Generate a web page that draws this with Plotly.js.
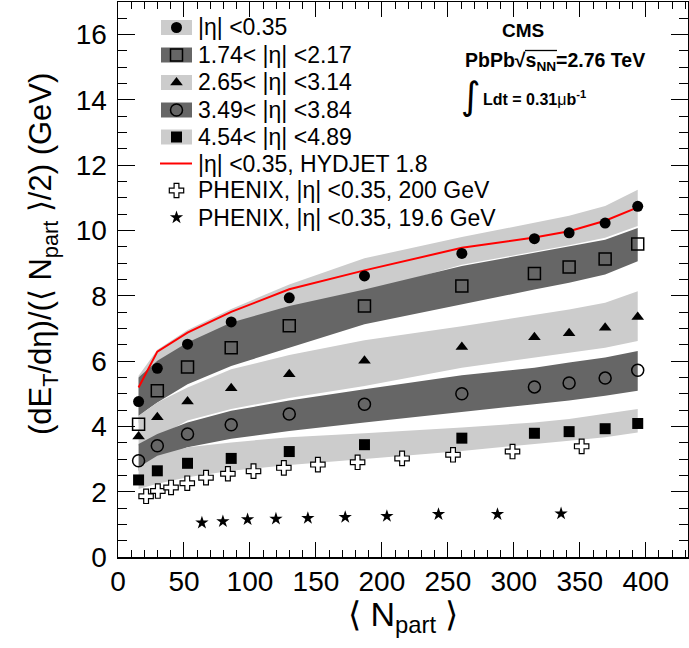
<!DOCTYPE html>
<html><head><meta charset="utf-8">
<script src="https://cdn.plot.ly/plotly-3.0.1.min.js"></script>
<style>body{margin:0;background:#fff}</style>
</head><body><div id="chart" style="width:689px;height:648px"></div>
<script>
// ---- data ----
const npart = [15.6, 29.8, 52.7, 85.8, 129.8, 186.8, 260.6, 315.6, 341.9, 369.2, 393.9];
const eta035 = [4.76, 5.78, 6.52, 7.20, 7.94, 8.61, 9.30, 9.75, 9.93, 10.23, 10.74];
const eta035Up = [5.55, 6.35, 6.95, 7.60, 8.35, 9.15, 9.80, 10.25, 10.45, 10.75, 11.25];
const eta035Lo = [4.10, 5.20, 6.00, 6.80, 7.50, 8.10, 8.95, 9.35, 9.55, 9.78, 10.14];
const eta174 = [4.07, 5.09, 5.82, 6.41, 7.08, 7.69, 8.30, 8.68, 8.88, 9.13, 9.59];
const eta174Up = [5.50, 6.01, 6.57, 7.18, 7.69, 8.19, 8.91, 9.31, 9.52, 9.72, 10.08];
const eta174Lo = [4.33, 4.73, 5.29, 5.85, 6.41, 7.13, 7.74, 8.19, 8.40, 8.65, 9.06];
const eta265 = [3.69, 4.28, 4.76, 5.17, 5.60, 6.01, 6.43, 6.73, 6.85, 7.02, 7.35];
const eta265Up = [4.33, 4.73, 5.19, 5.75, 6.19, 6.64, 7.07, 7.43, 7.58, 7.79, 8.14];
const eta265Lo = [3.41, 3.67, 4.18, 4.53, 4.87, 5.24, 5.80, 6.11, 6.26, 6.41, 6.62];
const eta349 = [2.95, 3.41, 3.77, 4.05, 4.38, 4.68, 5.00, 5.21, 5.33, 5.48, 5.72];
const eta349Up = [3.46, 3.77, 4.12, 4.48, 4.79, 5.14, 5.57, 5.80, 5.96, 6.11, 6.31];
const eta349Lo = [2.64, 3.00, 3.36, 3.62, 3.86, 4.12, 4.45, 4.68, 4.79, 4.94, 5.09];
const eta454 = [2.36, 2.64, 2.87, 3.02, 3.23, 3.44, 3.64, 3.79, 3.84, 3.93, 4.09];
const eta454Up = [2.75, 3.10, 3.36, 3.51, 3.67, 3.79, 3.97, 4.12, 4.23, 4.38, 4.53];
const eta454Lo = [2.08, 2.24, 2.44, 2.64, 2.82, 3.00, 3.25, 3.46, 3.56, 3.67, 3.81];
const hydjet = [5.19, 6.29, 6.87, 7.51, 8.20, 8.78, 9.47, 9.79, 9.98, 10.30, 10.71];
const phx200N = [21.3, 30.2, 40.2, 52.5, 66.7, 83.3, 102.7, 125.7, 151.5, 181.6, 215.3, 253.9, 299.0, 351.4];
const phx200 = [1.86, 2.02, 2.13, 2.26, 2.43, 2.55, 2.63, 2.73, 2.83, 2.90, 3.02, 3.13, 3.23, 3.39];
const phx19N = [63.6, 79.5, 98.2, 119.7, 143.9, 172.2, 203.8, 242.9, 287.6, 335.8];
const phx19 = [1.05, 1.09, 1.15, 1.17, 1.19, 1.22, 1.25, 1.31, 1.31, 1.33];
const legendLabels = ["|η| <0.35", "1.74< |η| <2.17", "2.65< |η| <3.14", "3.49< |η| <3.84",
  "4.54< |η| <4.89", "|η| <0.35, HYDJET 1.8", "PHENIX, |η| <0.35, 200 GeV", "PHENIX, |η| <0.35, 19.6 GeV"];

const LIGHT = '#cccccc', DARK = '#666666';
const FONT = 'Liberation Sans, Arial, Helvetica, sans-serif';
const XMAX = 432, YMAX = 17;

// pixel helpers for layout (plot area 118..688 x, 2..557 y)
const L = 118, R = 688, T = 2, B = 557;
const px = x => (x - L) / (R - L);
const py = y => (B - y) / (B - T);
const dx = x => px(x) * XMAX;   // pixel -> data (legend glyphs only)
const dy = y => py(y) * YMAX;

function band(up, lo, color) {
  return {x: npart.concat(npart.slice().reverse()), y: up.concat(lo.slice().reverse()),
    type: 'scatter', mode: 'lines', fill: 'toself', fillcolor: color, line: {width: 0},
    hoverinfo: 'skip', showlegend: false};
}
function pts(x, y, symbol, color, size, lw) {
  return {x: x, y: y, type: 'scatter', mode: 'markers', showlegend: false, cliponaxis: false,
    marker: {symbol: symbol, color: color, size: size, line: {color: 'black', width: lw}}};
}

const traces = [
  band(eta035Up, eta035Lo, LIGHT),
  band(eta174Up, eta174Lo, DARK),
  band(eta265Up, eta265Lo, LIGHT),
  band(eta349Up, eta349Lo, DARK),
  band(eta454Up, eta454Lo, LIGHT),
  {x: npart, y: hydjet, type: 'scatter', mode: 'lines', line: {color: '#ff0000', width: 2}, showlegend: false},
  pts(npart, eta035, 'circle', 'black', 11, 0),
  pts(npart, eta174, 'square-open', 'black', 12, 1.5),
  pts(npart, eta265, 'triangle-up', 'black', 11, 0),
  pts(npart, eta349, 'circle-open', 'black', 12, 1.5),
  pts(npart, eta454, 'square', 'black', 11, 0),
  pts(phx200N, phx200, 'cross', 'white', 12, 1.2),
  pts(phx19N, phx19, 'star', 'black', 10, 0)
];

// legend rows (pixel centres)
const rowY = [27.5, 55, 82.5, 110, 137, 163.5, 190.5, 217.5];
const boxColors = [LIGHT, DARK, LIGHT, DARK, LIGHT];
const shapes = [];
boxColors.forEach((c, i) => {
  shapes.push({type: 'rect', xref: 'paper', yref: 'paper', x0: px(161), x1: px(192),
    y0: py(rowY[i] - 7.5), y1: py(rowY[i] + 7.5), fillcolor: c, line: {width: 0}, layer: 'below'});
});
shapes.push({type: 'line', xref: 'paper', yref: 'paper', x0: px(160), x1: px(192),
  y0: py(rowY[5]), y1: py(rowY[5]), line: {color: '#ff0000', width: 2}});
// overline of the square root over s_NN
shapes.push({type: 'line', xref: 'paper', yref: 'paper', x0: px(525), x1: px(557),
  y0: py(50.5), y1: py(50.5), line: {color: 'black', width: 1.3}});

const legSym = ['circle', 'square-open', 'triangle-up', 'circle-open', 'square', 'cross', 'star'];
const legCol = ['black', 'black', 'black', 'black', 'black', 'white', 'black'];
const legSize = [11, 12, 11, 12, 11, 12, 10];
const legLw = [0, 1.5, 0, 1.5, 0, 1.2, 0];
const legRows = [0, 1, 2, 3, 4, 6, 7];
legRows.forEach((r, i) => {
  traces.push({x: [dx(176.5)], y: [dy(rowY[r])], type: 'scatter', mode: 'markers',
    showlegend: false, hoverinfo: 'skip', cliponaxis: false,
    marker: {symbol: legSym[i], color: legCol[i], size: legSize[i], line: {color: 'black', width: legLw[i]}}});
});

const annotations = legendLabels.map((t, i) => ({
  xref: 'paper', yref: 'paper', x: px(196), y: py(rowY[i]), xanchor: 'left', yanchor: 'middle',
  text: t, showarrow: false, font: {family: FONT, size: 23, color: 'black'}
}));
annotations.push(
  {xref: 'paper', yref: 'paper', x: px(523), y: py(30), xanchor: 'center', yanchor: 'middle', text: '<b>CMS</b>', showarrow: false,
   font: {family: FONT, size: 19, color: 'black'}},
  {xref: 'paper', yref: 'paper', x: px(463), y: py(61), xanchor: 'left', yanchor: 'middle', text: '<b>PbPb√s<sub>NN</sub>=2.76 TeV</b>', showarrow: false,
   font: {family: FONT, size: 19.5, color: 'black'}},
  {xref: 'paper', yref: 'paper', x: px(471), y: py(96), xanchor: 'center', yanchor: 'middle', text: '∫', showarrow: false,
   font: {family: 'DejaVu Sans, sans-serif', size: 38, color: 'black'}},
  {xref: 'paper', yref: 'paper', x: px(481), y: py(98), xanchor: 'left', yanchor: 'middle', text: '<b>Ldt = 0.31</b>μ<b>b<sup>-1</sup></b>', showarrow: false,
   font: {family: FONT, size: 16, color: 'black'}},
  {xref: 'paper', yref: 'paper', x: px(43), y: py(254), xanchor: 'center', yanchor: 'middle', textangle: -90,
   text: '(dE<sub>T</sub>/dη)/(⟨ N<sub>part</sub> ⟩/2) (GeV)', showarrow: false,
   font: {family: FONT, size: 31, color: 'black'}},
  {xref: 'paper', yref: 'paper', x: px(403), y: py(616), xanchor: 'center', yanchor: 'middle',
   text: '⟨ N<sub>part</sub> ⟩', showarrow: false,
   font: {family: FONT, size: 34, color: 'black'}}
);

const axCommon = {showline: true, linecolor: 'black', linewidth: 1.5, mirror: 'allticks', ticks: 'inside',
  tickcolor: 'black', tickwidth: 1, showgrid: false, zeroline: false,
  tickfont: {family: FONT, size: 28, color: 'black'}};

const layout = {
  width: 689, height: 648, margin: {l: L, r: 689 - R, t: T, b: 648 - B},
  paper_bgcolor: 'white', plot_bgcolor: 'white', showlegend: false,
  xaxis: Object.assign({}, axCommon, {range: [0, XMAX], tick0: 0, dtick: 50, ticklen: 15, ticklabelstandoff: -1,
    minor: {dtick: 10, ticklen: 7, ticks: 'inside', tickcolor: 'black', tickwidth: 1}}),
  yaxis: Object.assign({}, axCommon, {range: [0, YMAX], tick0: 0, dtick: 2, ticklen: 17, ticklabelstandoff: 4,
    minor: {dtick: 0.5, ticklen: 9, ticks: 'inside', tickcolor: 'black', tickwidth: 1}}),
  shapes: shapes, annotations: annotations
};

Plotly.newPlot('chart', traces, layout, {staticPlot: true});
</script></body></html>
